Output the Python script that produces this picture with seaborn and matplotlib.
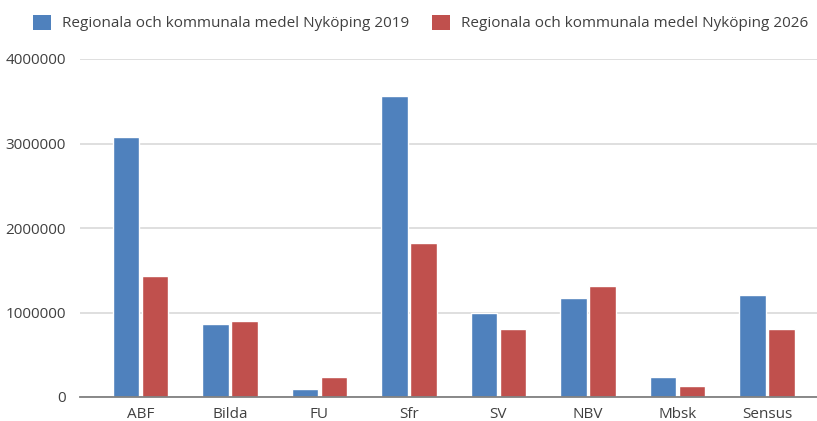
import matplotlib
matplotlib.use("Agg")
import matplotlib.pyplot as plt
import seaborn as sns
import pandas as pd
from matplotlib.patches import Patch

# kategorier och värden
categories = ["ABF", "Bilda", "FU", "Sfr", "SV", "NBV", "Mbsk", "Sensus"]
values_2019 = [3080000, 865000, 95000, 3560000, 1000000, 1175000, 233000, 1207000]
values_2026 = [1430000, 900000, 233000, 1826000, 800000, 1310000, 130000, 800000]
series = ["Regionala och kommunala medel Nyköping 2019",
          "Regionala och kommunala medel Nyköping 2026"]
yticks = [0, 1000000, 2000000, 3000000, 4000000]

colors = ["#4F81BD", "#C0504D"]

df = pd.DataFrame({
    "kategori": categories * 2,
    "serie": [series[0]] * len(categories) + [series[1]] * len(categories),
    "värde": values_2019 + values_2026,
})

sns.set_style("white")
plt.rcParams["font.family"] = ["Open Sans", "DejaVu Sans"]
text_color = "#404040"

W, H = 817, 421
fig = plt.figure(figsize=(W / 100, H / 100), dpi=100)
ax = fig.add_axes([80 / W, 1 - 397 / H, (W - 80) / W, (397 - 59) / H])

sns.barplot(data=df, x="kategori", y="värde", hue="serie", order=categories,
            hue_order=series, palette=colors, width=0.65, gap=0.1,
            saturation=1, ax=ax, legend=False)

ax.set_xlim(-0.676, 7.559)
ax.set_ylim(0, 4000000)
ax.set_yticks(yticks)
ax.set_yticklabels([str(v) for v in yticks])
ax.yaxis.grid(True, color="#d9d9d9", linewidth=1.2)
ax.set_axisbelow(True)
ax.set_xlabel("")
ax.set_ylabel("")
for s in ["top", "right", "left"]:
    ax.spines[s].set_visible(False)
ax.spines["bottom"].set_color("#808080")
ax.spines["bottom"].set_linewidth(1.3)
ax.tick_params(axis="both", length=0, labelsize=11, colors=text_color)
ax.tick_params(axis="y", pad=10)
ax.tick_params(axis="x", pad=7)

handles = [Patch(facecolor=c, edgecolor="none") for c in colors]
fig.legend(handles, series, loc="center left", bbox_to_anchor=(19 / W, 1 - 23 / H),
           ncol=2, frameon=False, fontsize=11, handlelength=1.18, handleheight=1.15,
           handletextpad=0.75, columnspacing=1.45, labelcolor=text_color)

fig.savefig("out.png", dpi=100)
